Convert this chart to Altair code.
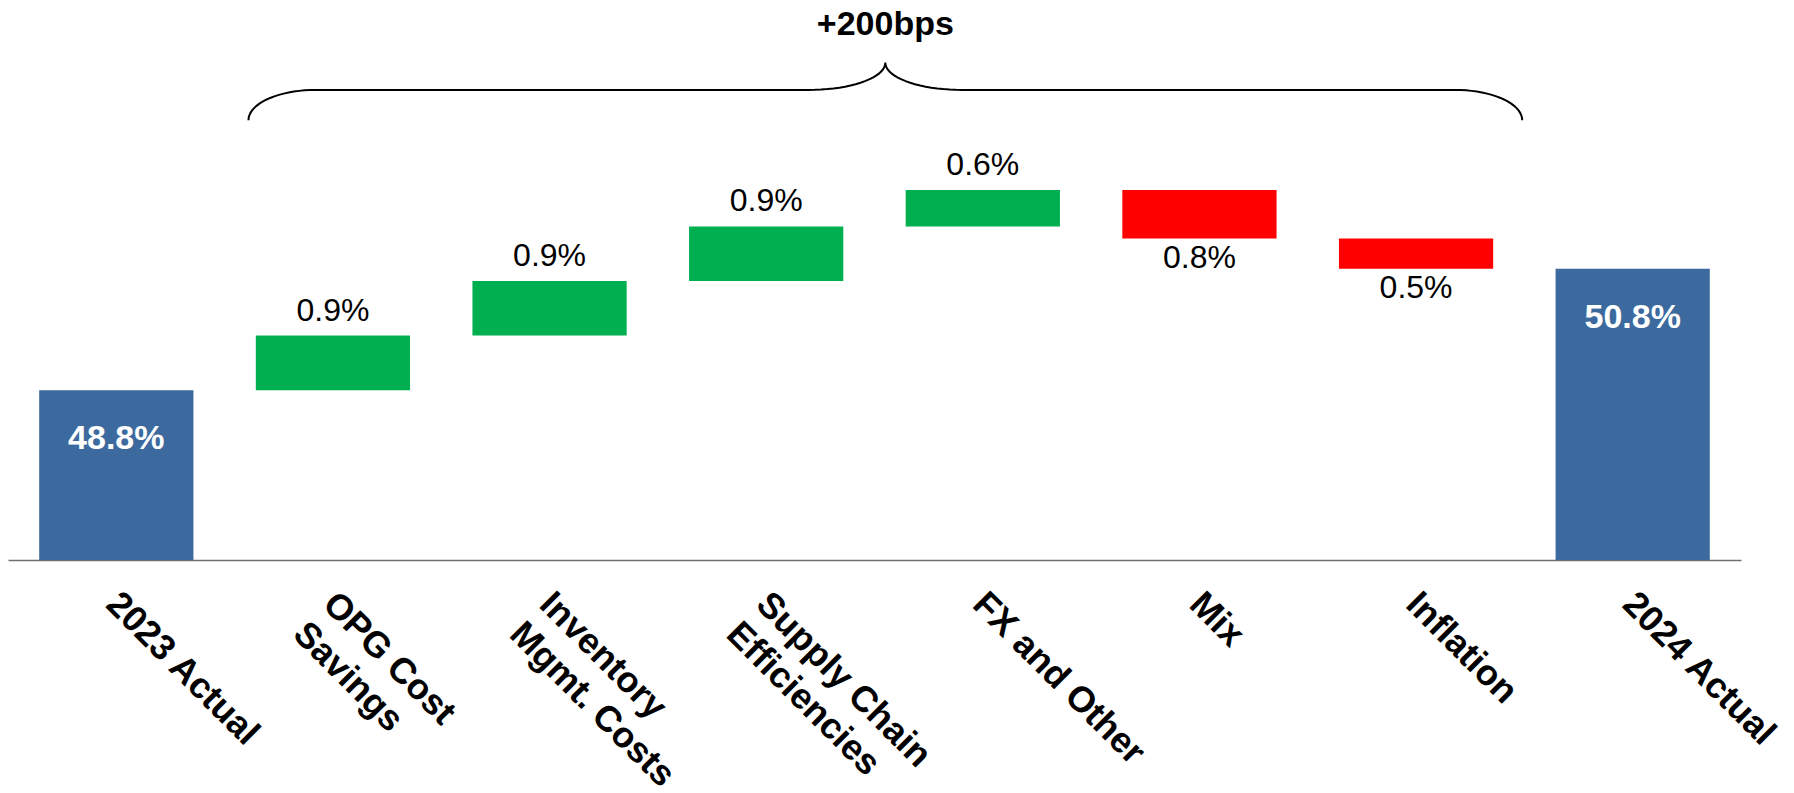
import altair as alt
import numpy as np
import pandas as pd

# ---- data ----
categories = ["2023 Actual", "OPG Cost|Savings", "Inventory|Mgmt. Costs",
              "Supply Chain|Efficiencies", "FX and Other", "Mix", "Inflation", "2024 Actual"]
deltas = [48.8, 0.9, 0.9, 0.9, 0.6, -0.8, -0.5, 50.8]
kinds = ["total", "up", "up", "up", "up", "down", "down", "total"]
value_labels = ["48.8%", "0.9%", "0.9%", "0.9%", "0.6%", "0.8%", "0.5%", "50.8%"]

y_min, y_max = 46.0, 55.233

# brace annotation (category-index units / percent units)
brace_x = [0.61, 6.49]          # left end, right end
brace_y = [53.25, 53.75, 54.2]  # ends, straight part, tip
brace_r = [0.31, 0.355]         # corner / tip horizontal radii
brace_label = "+200bps"
brace_label_y = 54.82

# ---- build table ----
starts, ends = [], []
run = 0.0
for k, d in zip(kinds, deltas):
    if k == "total":
        starts.append(y_min)
        ends.append(d)
        run = d
    else:
        starts.append(run)
        run = run + d
        ends.append(run)
df = pd.DataFrame({"cat": categories, "start": starts, "end": ends,
                   "kind": kinds, "label": value_labels})

# brace path
xl, xr = brace_x
ye, ym, yt = brace_y
rxe, rxt = brace_r
rye, ryt = ym - ye, yt - ym
xt = (xl + xr) / 2
pts = []
t = np.linspace(np.pi, np.pi / 2, 20)
pts += list(zip(xl + rxe + rxe * np.cos(t), ye + rye * np.sin(t)))
t = np.linspace(-np.pi / 2, 0, 20)
pts += list(zip(xt - rxt + rxt * np.cos(t), yt + ryt * np.sin(t)))
t = np.linspace(np.pi, np.pi * 1.5, 20)
pts += list(zip(xt + rxt + rxt * np.cos(t), yt + ryt * np.sin(t)))
t = np.linspace(np.pi / 2, 0, 20)
pts += list(zip(xr - rxe + rxe * np.cos(t), ye + rye * np.sin(t)))
brace = pd.DataFrame({"x": [p[0] for p in pts], "y": [p[1] for p in pts],
                      "o": list(range(len(pts)))})
brace_txt = pd.DataFrame({"x": [xt], "y": [brace_label_y], "t": [brace_label]})

FONT = "Liberation Sans"
yscale = alt.Scale(domain=[y_min, y_max], nice=False, zero=False)
xscale = alt.Scale(paddingInner=0.288, paddingOuter=0.144)
xaxis = alt.Axis(labelAngle=45, labelAlign="left", labelBaseline="top",
                 labelFont=FONT, labelFontSize=36, labelFontWeight="bold",
                 labelColor="black", labelLineHeight=42, labelLimit=1000,
                 labelExpr="split(datum.label, '|')", labelOffset=8,
                 ticks=False, tickSize=0, labelPadding=26,
                 domainColor="#707070", domainWidth=1.5, grid=False)


def ycol(field):
    return alt.Y(field, scale=yscale, axis=None)


def xcat():
    return alt.X("cat:N", sort=categories, axis=xaxis, title=None, scale=xscale)


base = alt.Chart(df)
bars = base.mark_bar().encode(
    x=xcat(),
    y=ycol("start:Q"),
    y2="end:Q",
    color=alt.Color("kind:N", scale=alt.Scale(domain=["total", "up", "down"],
                                              range=["#3D6A9E", "#00B050", "#FF0000"]),
                    legend=None),
)
tot_txt = base.transform_filter(alt.datum.kind == "total").mark_text(
    font=FONT, fontSize=34, fontWeight="bold", color="white", baseline="top", dy=32
).encode(x=xcat(), y=ycol("end:Q"), text="label:N")
up_txt = base.transform_filter(alt.datum.kind == "up").mark_text(
    font=FONT, fontSize=32, color="black", baseline="alphabetic", dy=-15
).encode(x=xcat(), y=ycol("end:Q"), text="label:N")
dn_txt = base.transform_filter(alt.datum.kind == "down").mark_text(
    font=FONT, fontSize=32, color="black", baseline="top", dy=4
).encode(x=xcat(), y=ycol("end:Q"), text="label:N")

xq = alt.Scale(domain=[-0.5, len(categories) - 0.5], nice=False, zero=False)
brace_line = alt.Chart(brace).mark_line(color="black", strokeWidth=2).encode(
    x=alt.X("x:Q", scale=xq, axis=None),
    y=ycol("y:Q"),
    order="o:Q",
)
brace_text = alt.Chart(brace_txt).mark_text(
    font=FONT, fontSize=34, fontWeight="bold", color="black", baseline="middle"
).encode(x=alt.X("x:Q", scale=xq, axis=None), y=ycol("y:Q"), text="t:N")

band_layer = alt.layer(bars, tot_txt, up_txt, dn_txt)
ann_layer = alt.layer(brace_line, brace_text)

chart = alt.layer(band_layer, ann_layer).resolve_scale(x="independent").properties(
    width=1733, height=560,
    autosize=alt.AutoSizeParams(type="none"),
    padding={"left": 8, "top": 0, "right": 53, "bottom": 233},
    view=alt.ViewBackground(strokeWidth=0, strokeOpacity=0),
).configure_view(strokeWidth=0, strokeOpacity=0).configure(background="white")

chart.save("out.html", embed_options={"renderer": "svg", "actions": False})
